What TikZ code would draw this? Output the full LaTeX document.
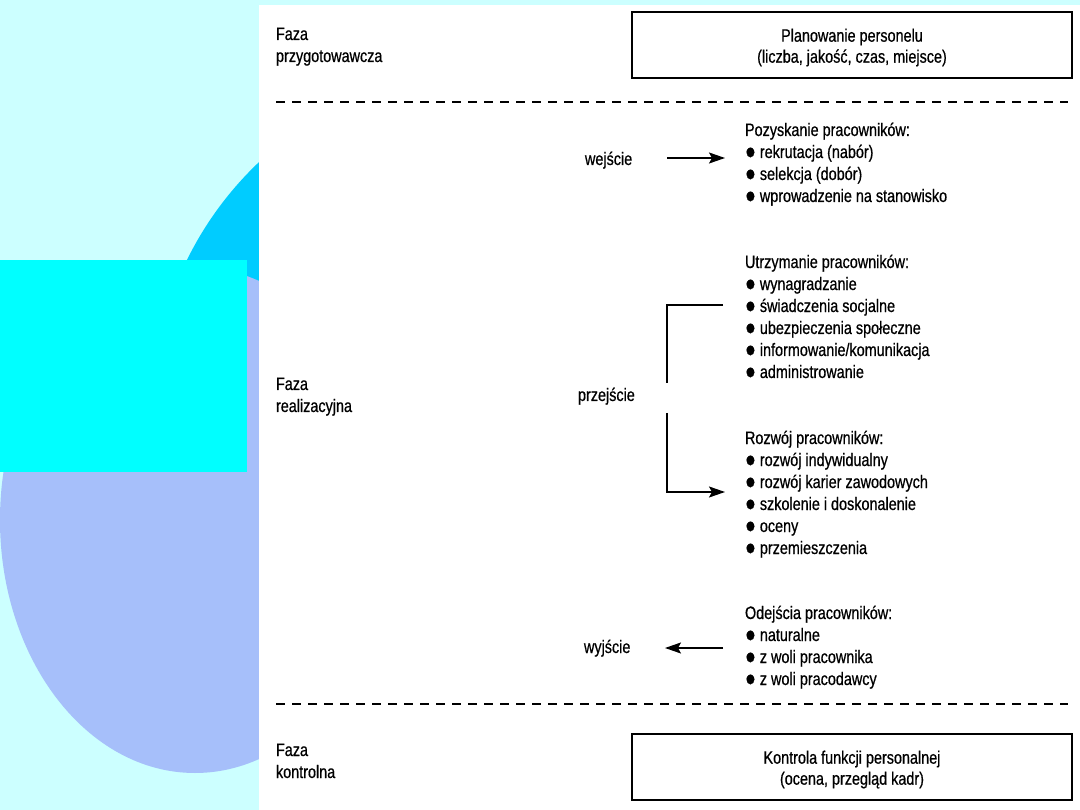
\documentclass[tikz,border=0pt]{standalone}
\usepackage{fontspec}
\setmainfont{Liberation Sans}[FakeStretch=0.80,FakeBold=0.6]
\usetikzlibrary{arrows.meta}
\definecolor{bgc}{HTML}{CCFFFF}
\definecolor{cyanc}{HTML}{00CCFF}
\definecolor{lavc}{HTML}{A6BFFA}
\definecolor{rectc}{HTML}{00FFFF}
\newcommand\blt{\raisebox{-0.8pt}{\scalebox{1.25}{●}}\ }
\newcommand\boxtext[1]{\raisebox{-3pt}[\height][\depth]{\begin{tabular}{@{}c@{}}#1\end{tabular}}}
\begin{document}
\begin{tikzpicture}[x=1pt,y=-1pt,
  every node/.style={inner sep=0pt,outer sep=0pt},
  txt/.style={font=\fontsize{18}{22}\selectfont,align=left},
  boxnode/.style={draw,line width=1.8pt,minimum width=440pt,minimum height=66pt,
    align=center,font=\fontsize{18}{21}\selectfont},
  dashline/.style={line width=1.8pt,dash pattern=on 9pt off 7pt},
  conn/.style={line width=1.5pt},
  arr/.style={conn,-{Stealth[length=16pt,width=11pt,inset=3pt]}}]
\useasboundingbox (0,0) rectangle (1080,810);
% background
\fill[bgc] (0,0) rectangle (1080,810);
\fill[cyanc] (495,411) circle[radius=343];
\fill[lavc] (195,520) ellipse[x radius=195,y radius=253];
\fill[rectc] (0,260) rectangle (247,472);
\fill[white] (259,5) rectangle (1080,810);
% phase labels (anchor = baseline of last line)
\node[txt,anchor=base west] (fprep) at (276,62) {Faza\\przygotowawcza};
\node[txt,anchor=base west] (freal) at (276,412) {Faza\\realizacyjna};
\node[txt,anchor=base west] (fkont) at (276,778) {Faza\\kontrolna};
% boxes
\node[boxnode] (plan) at (852,45) {\boxtext{Planowanie personelu\\(liczba, jakość, czas, miejsce)}};
\node[boxnode] (kontr) at (852,767) {\boxtext{Kontrola funkcji personalnej\\(ocena, przegląd kadr)}};
% dashed separators
\coordinate (d1a) at (276,102); \coordinate (d1b) at (1068,102);
\coordinate (d2a) at (276,704); \coordinate (d2b) at (1068,704);
\draw[dashline] (d1a) -- (d1b);
\draw[dashline] (d2a) -- (d2b);
% lists (anchor = baseline of last line)
\node[txt,anchor=base west] (poz) at (745,202) {Pozyskanie pracowników:\\
  \blt rekrutacja (nabór)\\ \blt selekcja (dobór)\\ \blt wprowadzenie na stanowisko};
\node[txt,anchor=base west] (utrz) at (745,378) {Utrzymanie pracowników:\\
  \blt wynagradzanie\\ \blt świadczenia socjalne\\ \blt ubezpieczenia społeczne\\
  \blt informowanie/komunikacja\\ \blt administrowanie};
\node[txt,anchor=base west] (rozw) at (745,554) {Rozwój pracowników:\\
  \blt rozwój indywidualny\\ \blt rozwój karier zawodowych\\ \blt szkolenie i doskonalenie\\
  \blt oceny\\ \blt przemieszczenia};
\node[txt,anchor=base west] (odej) at (745,685) {Odejścia pracowników:\\
  \blt naturalne\\ \blt z woli pracownika\\ \blt z woli pracodawcy};
% flow labels
\node[txt,anchor=base west] (wej) at (585,165) {wejście};
\node[txt,anchor=base west] (prz) at (578,401) {przejście};
\node[txt,anchor=base west] (wyj) at (584,653) {wyjście};
% connectors
\coordinate (inS) at (667,158); \coordinate (inE) at (725,158);
\draw[arr] (inS) -- (inE);
\coordinate (b1) at (723,305); \coordinate (b2) at (667,305); \coordinate (b3) at (667,383);
\draw[conn] (b1) -- (b2) -- (b3);
\coordinate (b4) at (667,413); \coordinate (b5) at (667,492); \coordinate (b6) at (725,492);
\draw[arr] (b4) -- (b5) -- (b6);
\coordinate (outS) at (723,648); \coordinate (outE) at (665,648);
\draw[arr] (outS) -- (outE);
\end{tikzpicture}
\end{document}
